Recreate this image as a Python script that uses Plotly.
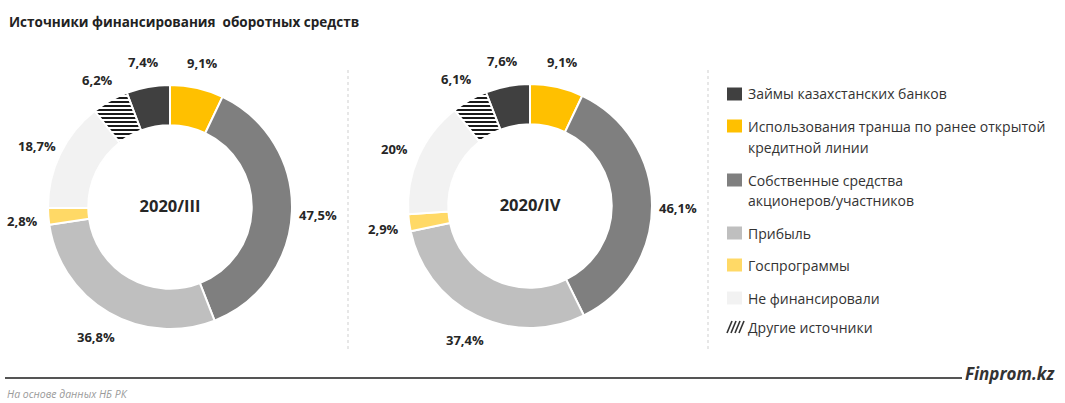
import math
import plotly.graph_objects as go

W, H = 1065, 403

# categories in legend order (clockwise from the slice that ends at 12 o'clock)
categories = [
    "Займы казахстанских банков",
    "Использования транша по ранее открытой кредитной линии",
    "Собственные средства акционеров/участников",
    "Прибыль",
    "Госпрограммы",
    "Не финансировали",
    "Другие источники",
]
legend_lines = [
    ["Займы казахстанских банков"],
    ["Использования транша по ранее открытой", "кредитной линии"],
    ["Собственные средства", "акционеров/участников"],
    ["Прибыль"],
    ["Госпрограммы"],
    ["Не финансировали"],
    ["Другие источники"],
]
periods = ["2020/III", "2020/IV"]
values_2020_3 = [7.4, 9.1, 47.5, 36.8, 2.8, 18.7, 6.2]
values_2020_4 = [7.6, 9.1, 46.1, 37.4, 2.9, 20.0, 6.1]

colors = ["#404040", "#FFC000", "#7F7F7F", "#BFBFBF", "#FFD966", "#F2F2F2", "#FFFFFF"]
patterns = ["", "", "", "", "", "", "-"]


def px(x):
    return x / W


def py(y):
    return 1 - y / H


def fmt(v):
    return f"{v:g}".replace(".", ",") + "%"


fig = go.Figure()
shapes = []
annotations = []

label_font = dict(family="Open Sans", size=13, color="#262626", weight="bold")

# donut placement (pixel centres, outer radius)
donuts = [(170, 207, values_2020_3), (530, 206, values_2020_4)]
R = 122
for (cx, cy, vals), name in zip(donuts, periods):
    total = sum(vals)
    rot = -360 * vals[0] / total
    fig.add_trace(go.Pie(
        labels=categories,
        values=vals,
        textinfo="none",
        sort=False,
        direction="clockwise",
        rotation=rot,
        hole=0.67,
        marker=dict(
            colors=colors,
            line=dict(color="white", width=2),
            pattern=dict(shape=patterns, fgcolor="#1a1a1a", bgcolor="white",
                         size=4, solidity=0.5),
        ),
        title=dict(text=name, position="middle center",
                   font=dict(family="Open Sans", size=16.5, color="#262626", weight="bold")),
        domain=dict(x=[px(cx - R), px(cx + R)], y=[py(cy + R), py(cy - R)]),
        showlegend=False,
        hovertemplate="%{label}: %{value}%<extra></extra>",
    ))
    # value labels outside the ring at each slice's mid angle
    start = rot
    for v in vals:
        mid = math.radians(start + 180 * v / total)
        start += 360 * v / total
        lx = cx + (R + 26) * math.sin(mid)
        ly = cy - (R + 26) * math.cos(mid) + 3 * abs(math.sin(mid))
        annotations.append(dict(text=fmt(v), xref="paper", yref="paper",
                                x=px(lx), y=py(ly), xanchor="center", yanchor="middle",
                                showarrow=False, font=label_font))

# dotted separators
for sx in [348, 708]:
    shapes.append(dict(type="line", xref="paper", yref="paper",
                       x0=px(sx), x1=px(sx), y0=py(70), y1=py(352),
                       line=dict(color="#cfcfcf", width=1, dash="dot")))

# manual legend
row_y = [94, 126, 180, 233, 265, 298, 327]
for lines, col, pat, y in zip(legend_lines, colors, patterns, row_y):
    if pat:
        for k in range(4):
            x0 = 727 + k * 4
            shapes.append(dict(type="line", xref="paper", yref="paper",
                               x0=px(x0), x1=px(x0 + 5), y0=py(y + 6), y1=py(y - 6),
                               line=dict(color="#333333", width=1.6)))
    else:
        shapes.append(dict(type="rect", xref="paper", yref="paper",
                           x0=px(727), x1=px(742), y0=py(y + 6.5), y1=py(y - 6.5),
                           fillcolor=col, line=dict(width=0)))
    for j, t in enumerate(lines):
        annotations.append(dict(text=t, xref="paper", yref="paper",
                                x=px(746), y=py(y + j * 21), xanchor="left", yanchor="middle",
                                showarrow=False,
                                font=dict(family="Open Sans", size=14, color="#333333")))

# title
annotations.append(dict(text="<b>Источники финансирования  оборотных средств</b>",
                        xref="paper", yref="paper", x=px(7), y=py(22),
                        xanchor="left", yanchor="middle", showarrow=False,
                        font=dict(family="Open Sans", size=13.5, color="#222222")))

# footer
shapes.append(dict(type="line", xref="paper", yref="paper",
                   x0=px(5), x1=px(962), y0=py(378), y1=py(378),
                   line=dict(color="#555555", width=2)))
annotations.append(dict(text="<b><i>Finprom.kz</i></b>", xref="paper", yref="paper",
                        x=px(1057), y=py(373), xanchor="right", yanchor="middle",
                        showarrow=False,
                        font=dict(family="Open Sans", size=17, color="#333333")))
annotations.append(dict(text="<i>На основе данных НБ РК</i>", xref="paper", yref="paper",
                        x=px(5), y=py(394), xanchor="left", yanchor="middle",
                        showarrow=False,
                        font=dict(family="Open Sans", size=10.5, color="#9a9a9a")))

fig.update_layout(
    width=W, height=H,
    margin=dict(l=0, r=0, t=0, b=0),
    paper_bgcolor="white",
    plot_bgcolor="white",
    shapes=shapes,
    annotations=annotations,
)

fig.write_html("out.html", config={"displayModeBar": False},
               post_script="document.body.style.margin='0';")
